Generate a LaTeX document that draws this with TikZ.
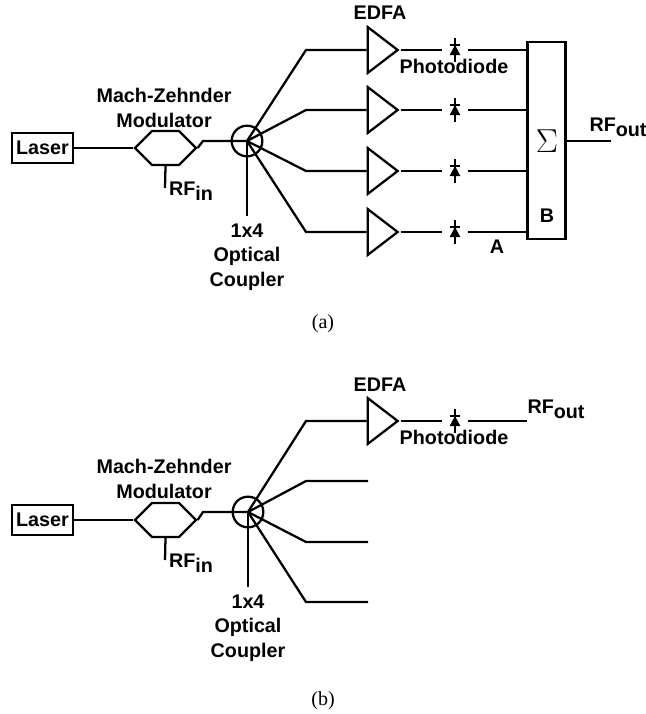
\documentclass[tikz,border=0pt]{standalone}
\usepackage{fontspec}
\setmainfont{Liberation Sans}
\newfontfamily\captionfont{Liberation Serif}
\usetikzlibrary{shapes.geometric,shapes.symbols}

\begin{document}
\begin{tikzpicture}[x=0.75pt, y=-0.75pt, line width=1.7pt,
                    main node/.style={font=\fontsize{14.8}{18.2}\selectfont\bfseries, align=center, inner sep=0pt},
                    cap node/.style={font=\fontsize{15}{17}\selectfont\captionfont, inner sep=0pt},
                    laser node/.style={draw, main node, minimum width=45.5pt, minimum height=22.5pt},
                    mzm node/.style={draw, signal, signal to=east and west, signal pointer angle=90, minimum width=45.75pt, minimum height=25.5pt, inner sep=0pt},
                    coupler node/.style={draw, circle, minimum size=23pt, inner sep=0pt},
                    edfa node/.style={draw, isosceles triangle, isosceles triangle stretches, minimum width=34.5pt, minimum height=22.5pt, inner sep=0pt},
                    diode node/.style={minimum size=17.5pt, inner sep=0pt, path picture={
                      \draw[line width=1.7pt] (path picture bounding box.south) -- (path picture bounding box.north);
                      \fill ([xshift=-4pt,yshift=-3.8pt]path picture bounding box.center) -- ([xshift=4pt,yshift=-3.8pt]path picture bounding box.center) -- ([yshift=3.8pt]path picture bounding box.center) -- cycle;
                      \draw[line width=1.4pt] ([xshift=-4pt,yshift=3.8pt]path picture bounding box.center) -- ([xshift=4pt,yshift=3.8pt]path picture bounding box.center);}},
                    sum node/.style={draw, minimum width=28.5pt, minimum height=147.5pt, inner sep=0pt}]

  \useasboundingbox (0,0) rectangle (646,714);

  % upper system
  \node[laser node] (laser1) at (42.5,148) {Laser};
  \node[mzm node] (mzm1) at (165.5,148) {};
  \node[coupler node] (cpl1) at (247,141) {};
  \coordinate (k1) at (203,141);
  \coordinate (rf1) at (165,188);
  \coordinate (c1) at (247,216);
  \coordinate (b1) at (306,50);
  \coordinate (b2) at (306,110);
  \coordinate (b3) at (306,171);
  \coordinate (b4) at (306,232);
  \node[edfa node] (edfa1) at (379,50) {};
  \node[edfa node] (edfa2) at (379,110) {};
  \node[edfa node] (edfa3) at (379,171) {};
  \node[edfa node] (edfa4) at (379,232) {};
  \node[diode node] (pd1) at (455,50) {};
  \node[diode node] (pd2) at (455,110) {};
  \node[diode node] (pd3) at (455,171) {};
  \node[diode node] (pd4) at (455,232) {};
  \node[sum node] (sum1) at (546.5,140.5) {};
  \coordinate (out1) at (611,141);

  \node[main node] (mzmlab1) at (164,108) {Mach-Zehnder\\Modulator};
  \node[main node] (rfin1) at (191,191) {RF\raisebox{-3.5pt}{in}};
  \node[main node] (cpllab1) at (247,257) {1x4\\Optical\\Coupler};
  \node[main node] (edfalab1) at (380,13) {EDFA};
  \node[main node] (pdlab1) at (454,66) {Photodiode};
  \node[main node] (alab1) at (497,247) {A};
  \node[main node] (blab1) at (547,216) {B};
  \node[font=\fontsize{23}{23}\selectfont] (sigma1) at (547,141) {$\Sigma$};
  \node[main node] (rfout1) at (618,127) {RF\raisebox{-3.5pt}{out}};
  \node[cap node] (capa) at (323,324) {(a)};

  \path
    (laser1) edge (mzm1)
    (mzm1.south) edge (rf1)
    (cpl1.center) edge (c1)
    (edfa1.apex) edge (pd1)
    (edfa2.apex) edge (pd2)
    (edfa3.apex) edge (pd3)
    (edfa4.apex) edge (pd4)
    (pd1) edge (pd1 -| sum1.west)
    (pd2) edge (pd2 -| sum1.west)
    (pd3) edge (pd3 -| sum1.west)
    (pd4) edge (pd4 -| sum1.west)
    (out1 -| sum1.east) edge (out1);
  \draw (mzm1.east) -- (k1) -- (cpl1.center);
  \draw (cpl1.center) -- (b1) -- (edfa1.lower side);
  \draw (cpl1.center) -- (b2) -- (edfa2.lower side);
  \draw (cpl1.center) -- (b3) -- (edfa3.lower side);
  \draw (cpl1.center) -- (b4) -- (edfa4.lower side);

  % lower system
  \node[laser node] (laser2) at (42.5,520) {Laser};
  \node[mzm node] (mzm2) at (165.5,520) {};
  \node[coupler node] (cpl2) at (248,512) {};
  \coordinate (k2) at (203,512);
  \coordinate (rf2) at (165,560);
  \coordinate (c2) at (248,587);
  \coordinate (f1) at (306,421);
  \coordinate (f2) at (306,481);
  \coordinate (f3) at (306,542);
  \coordinate (f4) at (306,602);
  \coordinate (e2) at (368,481);
  \coordinate (e3) at (368,542);
  \coordinate (e4) at (368,602);
  \node[edfa node] (edfa5) at (379,421) {};
  \node[diode node] (pd5) at (455,421) {};
  \coordinate (out2) at (527,421);

  \node[main node] (mzmlab2) at (164,479) {Mach-Zehnder\\Modulator};
  \node[main node] (rfin2) at (191,563) {RF\raisebox{-3.5pt}{in}};
  \node[main node] (cpllab2) at (248,628) {1x4\\Optical\\Coupler};
  \node[main node] (edfalab2) at (380,385) {EDFA};
  \node[main node] (pdlab2) at (454,437) {Photodiode};
  \node[main node] (rfout2) at (556,409) {RF\raisebox{-3.5pt}{out}};
  \node[cap node] (capb) at (323,701) {(b)};

  \path
    (laser2) edge (mzm2)
    (mzm2.south) edge (rf2)
    (cpl2.center) edge (c2)
    (edfa5.apex) edge (pd5)
    (pd5) edge (out2);
  \draw (mzm2.east) -- (k2) -- (cpl2.center);
  \draw (cpl2.center) -- (f1) -- (edfa5.lower side);
  \draw (cpl2.center) -- (f2) -- (e2);
  \draw (cpl2.center) -- (f3) -- (e3);
  \draw (cpl2.center) -- (f4) -- (e4);
\end{tikzpicture}
\end{document}
